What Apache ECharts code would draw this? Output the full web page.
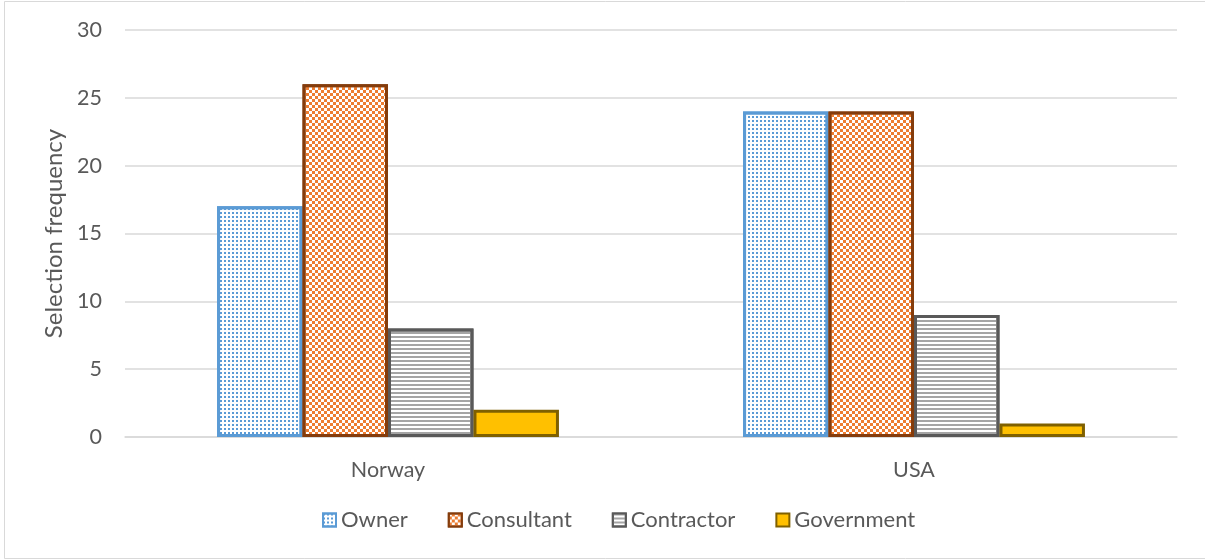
<!DOCTYPE html>
<html>
<head>
<meta charset="utf-8">
<script src="https://cdn.jsdelivr.net/npm/echarts@6/dist/echarts.min.js"></script>
<style>
html,body{margin:0;padding:0;background:#fff;}
#chart{width:1205px;height:560px;}
</style>
</head>
<body>
<div id="chart"></div>
<script>
const categories = ['Norway', 'USA'];
const seriesNames = ['Owner', 'Consultant', 'Contractor', 'Government'];
const ownerValues = [17, 24];
const consultantValues = [26, 24];
const contractorValues = [8, 9];
const governmentValues = [2, 1];
const yAxisTitle = 'Selection frequency';

const font = "Lato, 'Open Sans', sans-serif";
const chart = echarts.init(document.getElementById('chart'), null, {renderer: 'canvas'});

const styles = [
  {color: '#ffffff', borderColor: '#5B9BD5',
   decal: {symbol: 'rect', color: '#5B9BD5', backgroundColor: null, dashArrayX: [1.5, 2], dashArrayY: [1.5, 1.5], symbolSize: 1}},
  {color: '#ffffff', borderColor: '#843C0C',
   decal: {symbol: 'rect', color: '#ED7D31', backgroundColor: null, dashArrayX: [[3, 3], [0, 3, 3, 0]], dashArrayY: [3, 0], symbolSize: 1}},
  {color: '#ffffff', borderColor: '#595959',
   decal: {symbol: 'rect', color: '#A5A5A5', backgroundColor: null, dashArrayX: [1, 0], dashArrayY: [1.5, 2], symbolSize: 1}},
  {color: '#FFC000', borderColor: '#7F6000', decal: null}
];
const values = [ownerValues, consultantValues, contractorValues, governmentValues];

const series = seriesNames.map((name, i) => {
  const st = styles[i];
  const itemStyle = {color: st.color, borderColor: st.borderColor, borderWidth: 3};
  if (st.decal) itemStyle.decal = st.decal;
  return {
    name: name,
    type: 'bar',
    data: values[i],
    barGap: '0%',
    barCategoryGap: '35%',
    itemStyle: itemStyle,
    emphasis: {disabled: true}
  };
});

chart.setOption({
  animation: false,
  backgroundColor: '#ffffff',
  graphic: [{
    type: 'rect', silent: true, z: -1,
    shape: {x: 4.5, y: 1.5, width: 1220, height: 557},
    style: {fill: 'none', stroke: '#d9d9d9', lineWidth: 1}
  }],
  grid: {left: 125, right: 28, top: 30, bottom: 123, containLabel: false},
  legend: {
    bottom: 24,
    left: 317,
    itemWidth: 13,
    itemHeight: 13,
    itemGap: 40,
    icon: 'rect',
    textStyle: {fontFamily: font, fontSize: 22, color: '#595959'},
    data: seriesNames
  },
  xAxis: {
    type: 'category',
    data: categories,
    axisLine: {show: true, lineStyle: {color: '#d9d9d9', width: 1.5}},
    axisTick: {show: false},
    axisLabel: {fontFamily: font, fontSize: 21.5, color: '#595959', margin: 22}
  },
  yAxis: {
    type: 'value',
    min: 0, max: 30, interval: 5,
    name: yAxisTitle,
    nameLocation: 'middle',
    nameGap: 50,
    nameTextStyle: {fontFamily: font, fontSize: 24, color: '#595959'},
    axisLine: {show: false},
    axisTick: {show: false},
    axisLabel: {fontFamily: font, fontSize: 21.5, color: '#595959', margin: 23},
    splitLine: {lineStyle: {color: '#d9d9d9', width: 1.5}}
  },
  series: series
});
</script>
</body>
</html>
